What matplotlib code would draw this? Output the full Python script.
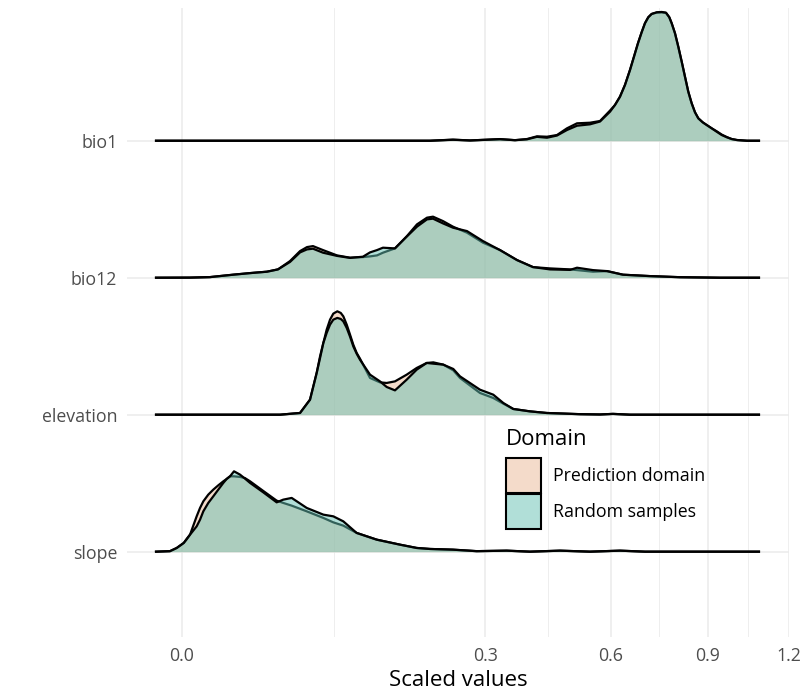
import numpy as np
import matplotlib.pyplot as plt
from matplotlib.patches import Patch
from matplotlib.colors import to_rgba
from matplotlib.ticker import FixedLocator

plt.rcParams['font.family'] = ['Open Sans', 'DejaVu Sans']

variables = ['bio1', 'bio12', 'elevation', 'slope']
domains = ['Prediction domain', 'Random samples']
fill_colors = ['#EBB997', '#65C1B3']
x_ticks = [0.0, 0.3, 0.6, 0.9, 1.2]
x_tick_labels = ['0.0', '0.3', '0.6', '0.9', '1.2']

# ridge heights are in units of the spacing between ridges
bio1_x = [-0.0022, 0.2004, 0.2393, 0.2703, 0.3295, 0.3613, 0.3878, 0.4106, 0.4341,
          0.4582, 0.4829, 0.5084, 0.5424, 0.5693, 0.5969, 0.6109, 0.6251, 0.6394,
          0.6540, 0.6657, 0.6775, 0.6885, 0.6984, 0.7085, 0.7188, 0.7342, 0.7498,
          0.7632, 0.7737, 0.7813, 0.7919, 0.8025, 0.8136, 0.8243, 0.8352, 0.8464,
          0.8575, 0.8686, 0.8834, 0.8970, 0.9142, 0.9316, 0.9491, 0.9678, 0.9845,
          1.0036, 1.0401, 1.0847]
bio1_pred = [0, 0, 0.008, 0.002, 0.012, 0.004, 0.0124, 0.0321, 0.0292, 0.0416, 0.0906,
             0.1271, 0.1315, 0.1439, 0.2200, 0.2608, 0.3214, 0.4069, 0.5164, 0.6136,
             0.7115, 0.7918, 0.8576, 0.9014, 0.9255, 0.9350, 0.9370, 0.9330, 0.9014,
             0.8576, 0.7845, 0.6866, 0.5771, 0.4675, 0.3579, 0.2732, 0.2074, 0.1636,
             0.1344, 0.1147, 0.0906, 0.0690, 0.0450, 0.0260, 0.0124, 0.0051, 0, 0]
bio1_rand = [0, 0, 0.007, 0.002, 0.011, 0.004, 0.0102, 0.0285, 0.0219, 0.0380, 0.0782,
             0.1096, 0.1198, 0.1402, 0.2118, 0.2608, 0.3214, 0.4069, 0.5164, 0.6136,
             0.7115, 0.7918, 0.8576, 0.9014, 0.9255, 0.9379, 0.9401, 0.9350, 0.9014,
             0.8576, 0.7845, 0.6866, 0.5771, 0.4675, 0.3579, 0.2732, 0.2074, 0.1636,
             0.1344, 0.1147, 0.0906, 0.0657, 0.0416, 0.0248, 0.0124, 0.0051, 0, 0]

bio12_x = [-0.0022, 0.00021, 0.00255, 0.0085, 0.0151, 0.0235, 0.0300, 0.0380, 0.0454,
           0.0509, 0.0559, 0.0648, 0.0783, 0.0920, 0.1067, 0.1152, 0.1239, 0.1316,
           0.1478, 0.1649, 0.1799, 0.1956, 0.2053, 0.2219, 0.2393, 0.2646, 0.2952,
           0.3295, 0.3657, 0.4014, 0.4413, 0.4905, 0.5084, 0.5504, 0.5885, 0.6336,
           0.7137, 0.8081, 0.9431, 1.0847]
bio12_pred = [0, 0.0007, 0.0044, 0.0219, 0.0336, 0.0438, 0.0606, 0.1213, 0.1943, 0.2235,
              0.2308, 0.2016, 0.1629, 0.1461, 0.1505, 0.1556, 0.1629, 0.1826, 0.2140,
              0.3039, 0.3893, 0.4383, 0.4456, 0.4134, 0.3725, 0.3287, 0.2557, 0.2016,
              0.1286, 0.0774, 0.0679, 0.0606, 0.0555, 0.0438, 0.0482, 0.0219, 0.0117,
              0.0037, 0, 0]
bio12_rand = [0, 0.0007, 0.0044, 0.0219, 0.0336, 0.0438, 0.0606, 0.1150, 0.1848, 0.2067,
              0.2118, 0.1826, 0.1592, 0.1446, 0.1534, 0.1848, 0.2016, 0.2191, 0.2140,
              0.3017, 0.3725, 0.4259, 0.4310, 0.3966, 0.3652, 0.3404, 0.2673, 0.2016,
              0.1286, 0.0774, 0.0606, 0.0570, 0.0730, 0.0555, 0.0482, 0.0219, 0.0117,
              0.0037, 0, 0]

elev_x = [-0.0022, 0.0313, 0.0454, 0.0534, 0.0591, 0.0621, 0.0651, 0.0682, 0.0714,
          0.0746, 0.0786, 0.0821, 0.0848, 0.0884, 0.0920, 0.0956, 0.0994, 0.1032,
          0.1152, 0.1277, 0.1365, 0.1478, 0.1645, 0.1795, 0.1951, 0.2058, 0.2225,
          0.2398, 0.2518, 0.2893, 0.3157, 0.3364, 0.3576, 0.3946, 0.4334, 0.5161,
          0.5693, 0.6053, 0.6540, 1.0847]
elev_pred = [0, 0, 0.0124, 0.1096, 0.3046, 0.4259, 0.5237, 0.6209, 0.6939, 0.7378,
             0.7546, 0.7429, 0.7180, 0.6574, 0.5844, 0.5113, 0.4507, 0.4091, 0.2681,
             0.2359, 0.2316, 0.2432, 0.2922, 0.3411, 0.3776, 0.3820, 0.3652, 0.3236,
             0.2681, 0.1585, 0.1220, 0.0803, 0.0416, 0.0241, 0.0124, 0.0037, 0.0015,
             0.0058, 0, 0]
elev_rand = [0, 0, 0.0124, 0.1096, 0.3046, 0.4138, 0.5237, 0.5968, 0.6574, 0.6939,
             0.7064, 0.6990, 0.6815, 0.6333, 0.5698, 0.4989, 0.4456, 0.4018, 0.2922,
             0.2432, 0.2023, 0.1775, 0.2557, 0.3287, 0.3776, 0.3725, 0.3652, 0.3338,
             0.2798, 0.1826, 0.1461, 0.0855, 0.0416, 0.0241, 0.0124, 0.0037, 0.0015,
             0.0058, 0, 0]

slope_x = [-0.0022, -0.00047, -0.00009, 0.00001, 0.00007, 0.00021, 0.0007, 0.00106,
           0.00148, 0.00225, 0.00319, 0.00429, 0.00556, 0.00651, 0.00751, 0.00881,
           0.01096, 0.01293, 0.0151, 0.0215, 0.0292, 0.0334, 0.0392, 0.0507, 0.0651,
           0.0746, 0.0848, 0.0994, 0.1235, 0.1548, 0.1795, 0.2004, 0.2393, 0.2830,
           0.3435, 0.3946, 0.4655, 0.5424, 0.6251, 0.6984, 1.0847]
slope_pred = [0, 0.0037, 0.0270, 0.0636, 0.0928, 0.1242, 0.2579, 0.3192, 0.3674, 0.4164,
              0.4529, 0.4843, 0.5135, 0.5310, 0.5500, 0.5500, 0.5457, 0.5369, 0.5135,
              0.4434, 0.3725, 0.3557, 0.3360, 0.2944, 0.2462, 0.2140, 0.1899, 0.1366,
              0.0877, 0.0511, 0.0270, 0.0197, 0.0146, 0.0037, 0.0073, 0, 0.0073, 0,
              0.0073, 0, 0]
slope_rand = [0, 0.0037, 0.0270, 0.0636, 0.0900, 0.1242, 0.1848, 0.2337, 0.2944, 0.3557,
              0.4039, 0.4529, 0.5018, 0.5310, 0.5500, 0.5866, 0.5625, 0.5332, 0.5018,
              0.4332, 0.3601, 0.3798, 0.3923, 0.3192, 0.2703, 0.2579, 0.2213, 0.1366,
              0.0877, 0.0511, 0.0270, 0.0197, 0.0146, 0.0037, 0.0073, 0, 0.0073, 0,
              0.0073, 0, 0]

ridge_x = [bio1_x, bio12_x, elev_x, slope_x]
ridge_pred = [bio1_pred, bio12_pred, elev_pred, slope_pred]
ridge_rand = [bio1_rand, bio12_rand, elev_rand, slope_rand]


def fwd(v):
    return np.sign(v) * np.sqrt(np.abs(v))


def inv(v):
    return np.sign(v) * v ** 2


fig, ax = plt.subplots(figsize=(8, 7), dpi=100)
fig.subplots_adjust(left=127 / 800, right=789 / 800, bottom=63 / 700, top=692 / 700)
ax.set_xscale('function', functions=(fwd, inv))

n = len(variables)
for i, var in enumerate(variables):
    base = n - 1 - i
    x = np.array(ridge_x[i])
    for j, h in enumerate([ridge_pred[i], ridge_rand[i]]):
        z = 2 + i * 2 + j
        y = base + np.array(h)
        ax.fill_between(x, base, y, color=fill_colors[j], alpha=0.5, lw=0, zorder=z)
        ax.plot(x, y, color='black', lw=1.6, zorder=z + 0.1, solid_joinstyle='round')

ax.set_xlim(-0.00986, 1.2006)
ax.set_ylim(-0.623, 3.969)
ax.set_yticks(range(n))
ax.set_yticklabels(variables[::-1])
ax.set_xticks(x_ticks)
ax.set_xticklabels(x_tick_labels)
# minor breaks sit halfway between majors on the sqrt scale
sq = np.sqrt(x_ticks)
ax.xaxis.set_minor_locator(FixedLocator(((sq[:-1] + sq[1:]) / 2) ** 2))

ax.grid(which='major', color='#EBEBEB', lw=1.1)
ax.grid(which='minor', axis='x', color='#EBEBEB', lw=0.6)
ax.set_axisbelow(True)
for s in ax.spines.values():
    s.set_visible(False)
ax.tick_params(which='both', length=0, labelsize=12.8, labelcolor='#4D4D4D')
ax.tick_params(axis='y', pad=7)
ax.tick_params(axis='x', pad=7)
ax.set_xlabel('Scaled values', fontsize=16, labelpad=4)

handles = [Patch(facecolor=to_rgba(c, 0.5), edgecolor='black', lw=1.5) for c in fill_colors]
leg = ax.legend(handles, domains, title='Domain', loc='upper left',
                bbox_to_anchor=(0.5725, 0.331), frameon=False, fontsize=12.8,
                title_fontsize=16, handlelength=1.97, handleheight=2.65,
                labelspacing=0.056, handletextpad=0.67, borderpad=0, borderaxespad=0,
                alignment='left')
leg._legend_box.sep = 5.8
leg.set_zorder(20)

fig.savefig('out.png', dpi=100)
